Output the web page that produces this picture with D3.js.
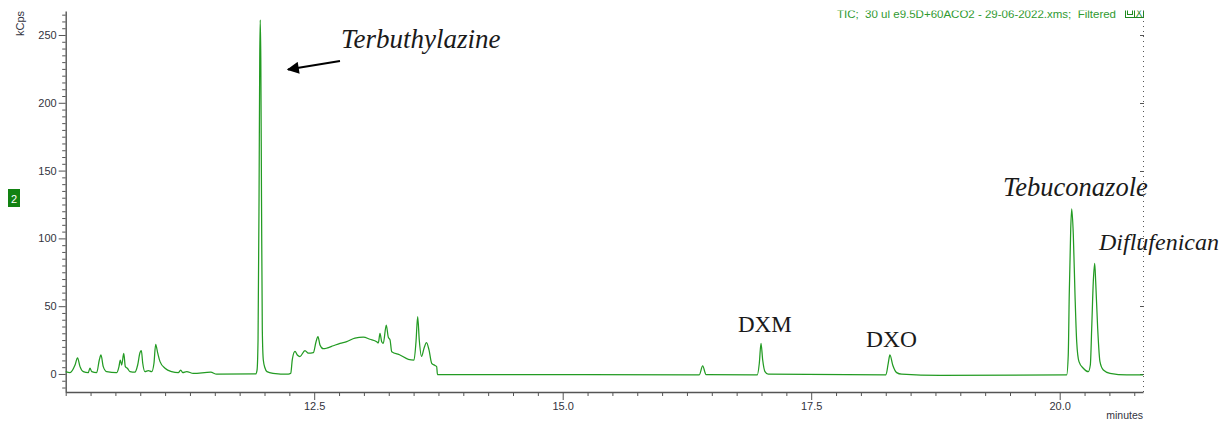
<!DOCTYPE html>
<html>
<head>
<meta charset="utf-8">
<script src="https://cdn.jsdelivr.net/npm/d3@7"></script>
<style>
  html, body { margin: 0; padding: 0; background: #fff; }
  svg { display: block; }
  .tick text { font-family: "Liberation Sans", Arial, sans-serif; font-size: 11px; fill: #333340; }
  .axis path, .axis line { stroke: #555; }
</style>
</head>
<body>
<svg id="chart" width="1232" height="423"></svg>
<script>
// Total ion chromatogram trace: retention time (minutes) and signal (kCps)
const times = [
  10.000, 10.043, 10.094, 10.119, 10.144, 10.177, 10.227, 10.244, 10.262, 10.312,
  10.338, 10.355, 10.378, 10.412, 10.513, 10.536, 10.549, 10.563, 10.584, 10.600,
  10.620, 10.647, 10.696, 10.724, 10.747, 10.761, 10.775, 10.798, 10.831, 10.865,
  10.888, 10.905, 10.926, 10.949, 10.999, 11.066, 11.133, 11.157, 11.177, 11.217,
  11.284, 11.459, 11.519, 11.911, 11.925, 11.935, 11.945, 11.952, 11.957, 11.963,
  11.970, 11.978, 11.988, 12.005, 12.025, 12.086, 12.239, 12.264, 12.280, 12.307,
  12.330, 12.357, 12.407, 12.441, 12.491, 12.518, 12.538, 12.558, 12.592, 12.626,
  12.692, 12.760, 12.827, 12.910, 12.994, 13.061, 13.129, 13.145, 13.162, 13.179,
  13.195, 13.225, 13.245, 13.263, 13.280, 13.363, 13.447, 13.504, 13.524, 13.541,
  13.557, 13.580, 13.605, 13.630, 13.655, 13.682, 13.715, 13.732, 13.740, 14.369,
  14.772, 16.374, 16.408, 16.442, 16.958, 16.978, 16.995, 17.012, 17.035, 17.068,
  18.252, 18.275, 18.292, 18.320, 18.360, 18.410, 18.796, 20.070, 20.086, 20.096,
  20.111, 20.121, 20.137, 20.154, 20.171, 20.194, 20.237, 20.288, 20.308, 20.322,
  20.338, 20.352, 20.362, 20.382, 20.405, 20.439, 20.506, 20.674, 20.838
];
const kcps = [
  1.7, 1.0, 6.6, 11.8, 5.4, 1.7, 1.0, 4.4, 1.7, 1.0,
  10.3, 14.0, 5.4, 1.7, 1.0, 5.4, 10.3, 6.6, 15.1, 5.4,
  4.2, 1.7, 1.3, 6.6, 15.7, 17.2, 7.9, 1.7, 2.4, 1.7,
  7.9, 21.8, 15.3, 9.1, 4.2, 1.7, 1.0, 2.9, 1.0, 1.7,
  0.4, 1.3, -0.2, 0.0, 2.9, 25.1, 128.3, 231.6, 261.1, 231.6,
  128.3, 32.4, 10.3, 4.4, 1.7, 0.5, -0.2, 0.5, 10.8, 16.6,
  14.0, 12.8, 17.3, 15.3, 15.7, 23.6, 27.5, 21.4, 18.6, 19.0,
  20.8, 22.6, 23.8, 26.5, 27.1, 25.6, 23.8, 22.9, 29.9, 23.8,
  22.6, 36.1, 27.3, 25.1, 16.4, 14.0, 10.8, 10.3, 23.6, 42.3,
  25.1, 12.9, 19.0, 23.1, 17.7, 7.9, 6.3, 5.5, -0.4, -0.4,
  -0.4, -0.6, 5.9, -0.4, -0.6, 7.9, 22.6, 10.3, 1.7, -0.2,
  -0.6, 7.9, 14.0, 6.6, 1.0, -0.2, -1.1, -0.7, 14.0, 58.3,
  107.4, 121.7, 102.5, 58.3, 23.8, 9.1, 4.2, 1.7, 6.6, 33.7,
  68.1, 81.6, 68.1, 33.7, 9.1, 2.9, 0.5, -0.7, -0.7
];

const xDomain = [10.0, 20.838];
const yDomain = [-13.3, 267.7];
const yMajorTicks = [0, 50, 100, 150, 200, 250];
const xMajorTicks = [12.5, 15.0, 17.5, 20.0];
const xTickLabels = ["12.5", "15.0", "17.5", "20.0"];

// Annotated compounds and whether their names are set in italics
const peakNames = ["Terbuthylazine", "DXM", "DXO", "Tebuconazole", "Diflufenican"];
const peakItalic = [true, false, false, true, true];

const headerText = "TIC;  30 ul e9.5D+60ACO2 - 29-06-2022.xms;  Filtered";

const svg = d3.select("#chart");
const x = d3.scaleLinear().domain(xDomain).range([65.7, 1143]);
const y = d3.scaleLinear().domain(yDomain).range([392, 11]);

// Header line, clipped at the top edge of the plot window
const defs = svg.append("defs");
defs.append("clipPath").attr("id", "hdrclip")
  .append("rect").attr("x", 0).attr("y", 10.5).attr("width", 1232).attr("height", 20);
svg.append("text")
  .attr("clip-path", "url(#hdrclip)")
  .attr("x", 837).attr("y", 17.5)
  .attr("font-family", "Liberation Sans, Arial, sans-serif")
  .attr("font-size", 11.5)
  .attr("fill", "#2f9a2f")
  .style("white-space", "pre")
  .text(headerText);

// small window buttons at the top right
const btn = svg.append("g").attr("clip-path", "url(#hdrclip)");
btn.append("rect").attr("x", 1125.5).attr("y", 6.5).attr("width", 18).attr("height", 11)
  .attr("fill", "none").attr("stroke", "#1f8a1f").attr("stroke-width", 1);
btn.append("line").attr("x1", 1134.5).attr("x2", 1134.5).attr("y1", 6.5).attr("y2", 17.5)
  .attr("stroke", "#1f8a1f");
btn.append("rect").attr("x", 1127.5).attr("y", 9.5).attr("width", 5).attr("height", 5)
  .attr("fill", "none").attr("stroke", "#1f8a1f");
btn.append("text").attr("x", 1139).attr("y", 16.5).attr("text-anchor", "middle")
  .attr("font-family", "Liberation Sans, Arial, sans-serif").attr("font-size", 10)
  .attr("fill", "#1f8a1f").text("X");

// Right-hand dotted frame line with small ticks
svg.append("line")
  .attr("x1", 1143.5).attr("x2", 1143.5).attr("y1", 11).attr("y2", 392)
  .attr("stroke", "#555").attr("stroke-width", 1).attr("stroke-dasharray", "1,4");
svg.append("g").selectAll("line").data(yMajorTicks).join("line")
  .attr("x1", 1140).attr("x2", 1144)
  .attr("y1", d => Math.round(y(d)) + 0.5).attr("y2", d => Math.round(y(d)) + 0.5)
  .attr("stroke", "#555");

// Y axis: minor ticks every 5 kCps, labelled majors every 50
const yMinor = d3.range(-10, 266, 5).filter(v => v % 50 !== 0);
svg.append("g").attr("class", "axis").attr("transform", "translate(65.7,0)")
  .call(d3.axisLeft(y).tickValues(yMinor).tickSize(3.5).tickFormat(""))
  .call(g => g.select(".domain").remove());
svg.append("g").attr("class", "axis").attr("transform", "translate(65.7,0)")
  .call(d3.axisLeft(y).tickValues(yMajorTicks).tickSize(7).tickSizeOuter(0).tickPadding(2)
    .tickFormat(d => String(d)))
  .call(g => g.select(".domain").attr("stroke-width", 1.4));

// X axis: minor ticks every 0.25 min, labelled majors every 2.5 min
const xMinor = d3.range(10, 20.84, 0.25).filter(v => !xMajorTicks.some(m => Math.abs(m - v) < 1e-6));
svg.append("g").attr("class", "axis").attr("transform", "translate(0,392)")
  .call(d3.axisBottom(x).tickValues(xMinor).tickSize(4).tickFormat(""))
  .call(g => g.select(".domain").remove());
svg.append("g").attr("class", "axis").attr("transform", "translate(0,392)")
  .call(d3.axisBottom(x).tickValues(xMajorTicks).tickSize(8).tickSizeOuter(0).tickPadding(2)
    .tickFormat((d, i) => xTickLabels[i]))
  .call(g => g.select(".domain").attr("stroke-width", 1.4));

// Axis titles
svg.append("text")
  .attr("transform", "translate(23.5,23.5) rotate(-90)")
  .attr("text-anchor", "middle")
  .attr("font-family", "Liberation Sans, Arial, sans-serif").attr("font-size", 11)
  .attr("fill", "#333340").text("kCps");
svg.append("text")
  .attr("x", 1143).attr("y", 418.5).attr("text-anchor", "end")
  .attr("font-family", "Liberation Sans, Arial, sans-serif").attr("font-size", 10.5)
  .attr("fill", "#333340").text("minutes");

// Trace number badge
svg.append("rect").attr("x", 8).attr("y", 189).attr("width", 12).attr("height", 18)
  .attr("fill", "#128212");
svg.append("text").attr("x", 14).attr("y", 202.5).attr("text-anchor", "middle")
  .attr("font-family", "Liberation Sans, Arial, sans-serif").attr("font-size", 11)
  .attr("fill", "#fff").text("2");

// Chromatogram trace
const pts = times.map((t, i) => [t, kcps[i]]);
const line = d3.line().x(d => x(d[0])).y(d => y(d[1])).curve(d3.curveMonotoneX);
svg.append("path")
  .datum(pts)
  .attr("d", line)
  .attr("fill", "none")
  .attr("stroke", "#239b23")
  .attr("stroke-width", 1.25)
  .attr("stroke-linejoin", "round");

// Compound labels
const serif = "Liberation Serif, 'Times New Roman', serif";
const labelPos = [
  { x: 341, y: 47.5, size: 27 },
  { x: 738, y: 331.5, size: 23 },
  { x: 866, y: 346.5, size: 23.5 },
  { x: 1003, y: 196, size: 26.5 },
  { x: 1099, y: 249.5, size: 24 }
];
svg.append("g").selectAll("text").data(peakNames).join("text")
  .attr("x", (d, i) => labelPos[i].x)
  .attr("y", (d, i) => labelPos[i].y)
  .attr("font-family", serif)
  .attr("font-size", (d, i) => labelPos[i].size)
  .attr("font-style", (d, i) => peakItalic[i] ? "italic" : "normal")
  .attr("fill", "#1a1a1a")
  .text(d => d);

// Arrow pointing at the Terbuthylazine peak
defs.append("marker").attr("id", "arrowhead")
  .attr("viewBox", "0 0 10 10").attr("refX", 9).attr("refY", 5)
  .attr("markerWidth", 7).attr("markerHeight", 6).attr("markerUnits", "strokeWidth")
  .attr("orient", "auto")
  .append("path").attr("d", "M0,0 L10,5 L0,10 z").attr("fill", "#000");
svg.append("line")
  .attr("x1", 340).attr("y1", 61).attr("x2", 288).attr("y2", 69.5)
  .attr("stroke", "#000").attr("stroke-width", 2)
  .attr("marker-end", "url(#arrowhead)");
</script>
</body>
</html>
